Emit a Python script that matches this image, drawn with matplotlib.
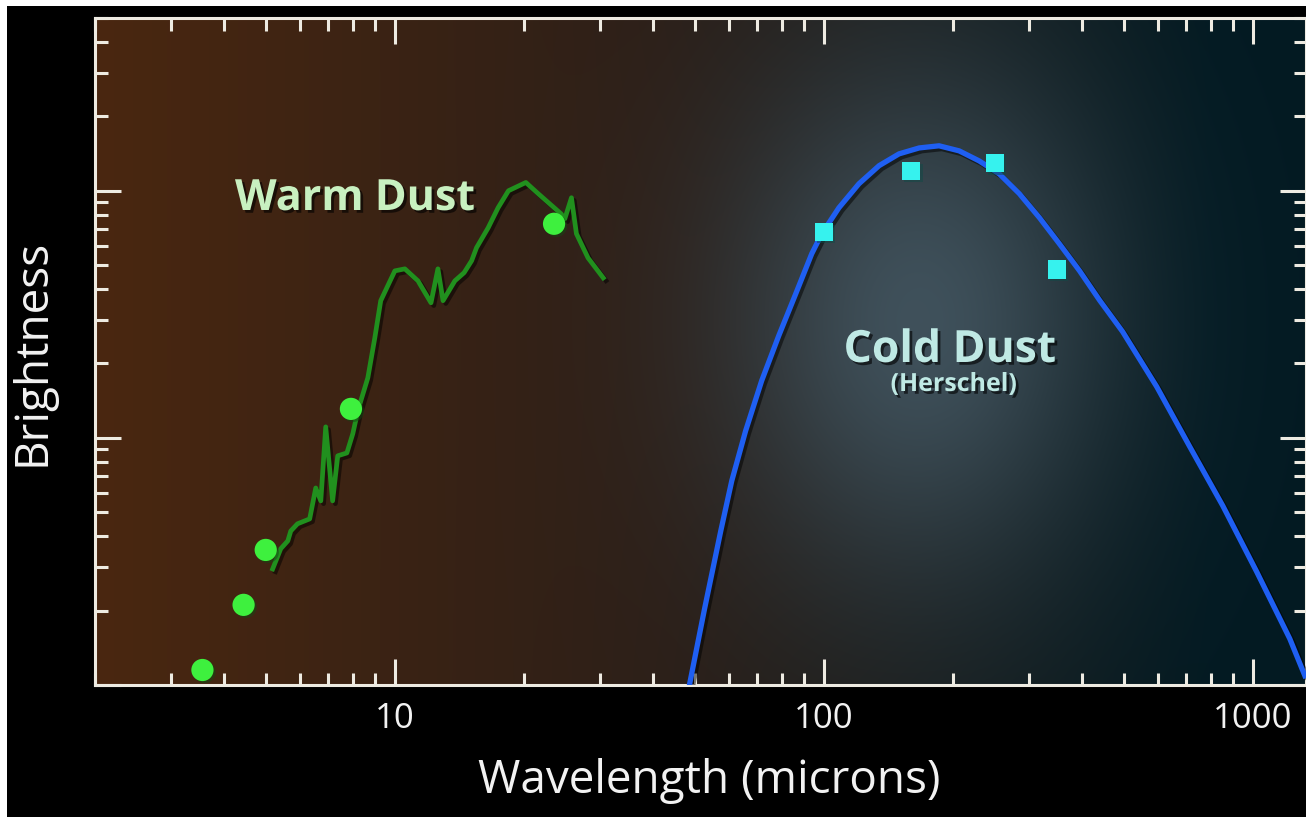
import numpy as np
import matplotlib.pyplot as plt
from matplotlib import patheffects as pe
from matplotlib.patches import Rectangle
from matplotlib.ticker import LogLocator, NullFormatter

plt.rcParams["font.family"] = ["Open Sans", "DejaVu Sans"]

# warm dust spectrum (wavelength in microns, brightness)
warm_wl = [5.19, 5.42, 5.63, 5.72, 5.93, 6.33, 6.54, 6.72, 6.90, 7.16, 7.36, 7.73,
           7.98, 8.20, 8.65, 8.98, 9.27, 9.63, 10.0, 10.55, 11.32, 12.14, 12.6, 12.95,
           13.8, 14.5, 15.1, 15.5, 16.5, 17.4, 18.4, 20.2, 21.6, 24.4, 24.9, 25.8,
           26.5, 28.2, 30.6]
warm_flux = [0.295, 0.356, 0.383, 0.42, 0.449, 0.47, 0.627, 0.556, 1.108, 0.556, 0.846, 0.869,
             1.04, 1.29, 1.75, 2.54, 3.59, 4.13, 4.74, 4.83, 4.32, 3.52, 4.83, 3.59,
             4.32, 4.66, 5.21, 5.88, 7.08, 8.53, 10.0, 10.8, 9.72, 8.07, 7.7, 9.37,
             6.70, 5.35, 4.44]

# warm dust photometry
warm_pt_wl = [3.56, 4.44, 5.0, 7.9, 23.5]
warm_pt_flux = [0.115, 0.211, 0.352, 1.31, 7.35]

# Herschel photometry
cold_pt_wl = [100, 160, 250, 350]
cold_pt_flux = [6.8, 12.0, 12.9, 4.8]

# cold dust model curve
cold_wl = [48.6, 52.7, 57.5, 61.0, 65.7, 71.6, 78.5, 86.0, 93.7, 98.9, 108.4, 120.7,
           134.5, 149.7, 166.8, 185.6, 206.7, 230.2, 256.3, 285.6, 318, 354, 394.5,
           439.5, 497, 597, 713, 851, 1021, 1219, 1322]
cold_flux = [0.1, 0.203, 0.420, 0.670, 1.067, 1.70, 2.59, 3.83, 5.56, 6.70, 8.53, 10.67,
             12.63, 14.1, 14.9, 15.2, 14.5, 13.2, 11.7, 9.72, 7.78, 6.10, 4.74,
             3.6, 2.69, 1.61, 0.920, 0.531, 0.287, 0.154, 0.109]

xticks = [10, 100, 1000]
xtick_labels = ["10", "100", "1000"]

W, H = 1306, 817
fg = "#eeebe2"

fig = plt.figure(figsize=(W / 100, H / 100), dpi=100, facecolor="white")
fig.patches.append(Rectangle((7 / W, 0), 1 - 7 / W, 1 - 6 / H, transform=fig.transFigure,
                             facecolor="black", edgecolor="none", zorder=-10))

rect = [95 / W, 132 / H, 1 - 95 / W, 667 / H]

# background: brown -> teal gradient with a soft glow behind the cold dust curve
bg = fig.add_axes(rect, zorder=0)
ny, nx = 667, 1211
xx, yy = np.meshgrid(np.arange(nx) + 95, np.arange(ny) + 18)
u = (xx - 95) / nx
left_col = np.array([74, 39, 16]) / 255
mid_col = np.array([44, 31, 24]) / 255
right_col = np.array([3, 26, 34]) / 255
t1 = np.clip(u / 0.47, 0, 1)[..., None]
t2 = np.clip((u - 0.47) / 0.45, 0, 1)[..., None]
base = np.where(u[..., None] < 0.47, left_col * (1 - t1) + mid_col * t1,
                mid_col * (1 - t2) + right_col * t2)
g = 0.85 * np.exp(-(((xx - 920) / 190.0) ** 2 + ((yy - 320) / 260.0) ** 2))
glow_col = np.array([70, 90, 102]) / 255
img = base * (1 - g[..., None]) + glow_col * g[..., None]
bg.imshow(img, aspect="auto", interpolation="bilinear")
bg.axis("off")

ax = fig.add_axes(rect, zorder=1)
ax.set_facecolor("none")
ax.set_xscale("log")
ax.set_yscale("log")

shadow = [pe.SimpleLineShadow(offset=(2, -2), shadow_color="black", alpha=0.5), pe.Normal()]

ax.plot(warm_wl, warm_flux, color="#21901e", lw=3.4, solid_joinstyle="round",
        path_effects=shadow, zorder=3)
ax.plot(cold_wl, cold_flux, color="#1f5ff2", lw=3.8, solid_joinstyle="round",
        path_effects=shadow, zorder=3)
ax.plot(warm_pt_wl, warm_pt_flux, "o", color="#3ef03e", ms=16, mec="none", zorder=4,
        clip_on=False, path_effects=[pe.SimplePatchShadow(offset=(1.5, -1.5), alpha=0.5), pe.Normal()])
ax.plot(cold_pt_wl, cold_pt_flux, "s", color="#36f2ee", ms=13, mec="none", zorder=4,
        path_effects=[pe.SimplePatchShadow(offset=(1.5, -1.5), alpha=0.5), pe.Normal()])

ax.set_xlim(2, 1330)
ax.set_ylim(0.1, 50)

ax.set_xticks(xticks, xtick_labels)
ax.xaxis.set_minor_locator(LogLocator(base=10, subs=np.arange(2, 10), numticks=20))
ax.xaxis.set_minor_formatter(NullFormatter())
ax.yaxis.set_major_locator(LogLocator(base=10, numticks=20))
ax.yaxis.set_minor_locator(LogLocator(base=10, subs=np.arange(2, 10), numticks=20))
ax.yaxis.set_major_formatter(NullFormatter())
ax.yaxis.set_minor_formatter(NullFormatter())

ax.tick_params(which="both", direction="in", top=True, right=True, color=fg, width=2.2,
               labelcolor="#f2f2f2", labelsize=25, pad=12)
ax.tick_params(which="major", length=19)
ax.tick_params(which="minor", length=9)
for s in ax.spines.values():
    s.set_color(fg)
    s.set_linewidth(2.2)

fig.text(709 / W, 1 - 793 / H, "Wavelength (microns)", ha="center", va="baseline",
         fontsize=33, color="#f2f2f2")
fig.text(33 / W, 1 - 352 / H, "Brightness", ha="center", va="center", rotation=90,
         fontsize=33, color="#f2f2f2")

txt_shadow = [pe.withSimplePatchShadow(offset=(2, -2), shadow_rgbFace="black", alpha=0.6)]
fig.text(235 / W, 1 - 210 / H, "Warm Dust", ha="left", va="baseline", fontsize=31,
         weight="bold", color="#c8f0c0", path_effects=txt_shadow, zorder=5)
fig.text(950 / W, 1 - 362 / H, "Cold Dust", ha="center", va="baseline", fontsize=32,
         weight="bold", color="#bfe9e4", path_effects=txt_shadow, zorder=5)
fig.text(954 / W, 1 - 391 / H, "(Herschel)", ha="center", va="baseline", fontsize=18,
         weight="bold", color="#bfe9e4", path_effects=txt_shadow, zorder=5)

fig.savefig("out.png", dpi=100, facecolor=fig.get_facecolor())
